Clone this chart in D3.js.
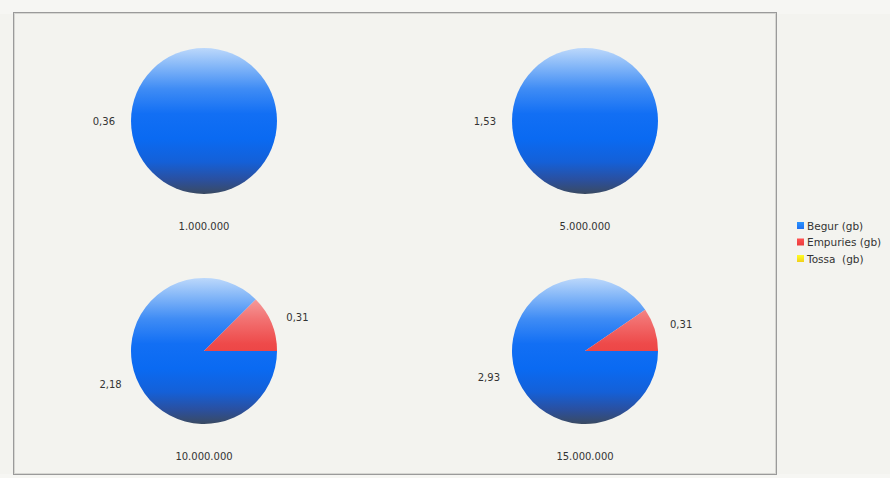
<!DOCTYPE html>
<html>
<head>
<meta charset="utf-8">
<script src="https://cdn.jsdelivr.net/npm/d3@7"></script>
<style>
  html, body { margin: 0; padding: 0; background: #f6f6f3; }
  svg { display: block; }
  text { font-family: "DejaVu Sans", Verdana, sans-serif; font-size: 10px; fill: #333; }
</style>
</head>
<body>
<svg id="chart" width="890" height="478"></svg>
<script>
// Disk usage per site, one pie for each file count
const categories = ["1.000.000", "5.000.000", "10.000.000", "15.000.000"];
const seriesNames = ["Begur (gb)", "Empuries (gb)", "Tossa  (gb)"];
const begur    = [0.36, 1.53, 2.18, 2.93];
const empuries = [0,    0,    0.31, 0.31];
const tossa    = [0,    0,    0,    0];
const seriesValues = [begur, empuries, tossa];

const W = 890, H = 478;
const frame = { x: 13, y: 12, w: 763, h: 462 };
const radius = 73;
const labelRadius = 89;

const svg = d3.select("#chart");
const fmt = d3.formatLocale({ decimal: ",", thousands: ".", grouping: [3], currency: ["", ""] }).format(".2f");

// gradients: light at the top, saturated middle, dark at the bottom
const defs = svg.append("defs");
const gradSpecs = [
  { id: "g0", stops: [[0, "#bcd8fb"], [0.12, "#86b8f8"], [0.28, "#3f8cf5"], [0.45, "#126ff4"], [0.62, "#0a6af2"], [0.78, "#1460d8"], [0.9, "#2a50a0"], [1, "#3a4a62"]] },
  { id: "g1", stops: [[0, "#f8c4c4"], [0.12, "#f5a2a2"], [0.28, "#f27272"], [0.45, "#ee4a4a"], [0.62, "#ea3c3c"], [0.78, "#d43838"], [0.9, "#a83434"], [1, "#6a3030"]] },
  { id: "g2", stops: [[0, "#fbeea0"], [0.3, "#f7dc4a"], [0.55, "#f2cc10"], [0.8, "#c8a410"], [1, "#7a6a20"]] }
];
gradSpecs.forEach(g => {
  const lg = defs.append("linearGradient").attr("id", g.id)
    .attr("gradientUnits", "userSpaceOnUse")
    .attr("x1", 0).attr("y1", -radius).attr("x2", 0).attr("y2", radius);
  g.stops.forEach(s => lg.append("stop").attr("offset", s[0]).attr("stop-color", s[1]));
});
const legGrad = ["#1f6ff0", "#ea3d3d", "#f1cf1a"];
legGrad.forEach((c, i) => {
  const lg = defs.append("linearGradient").attr("id", "lg" + i).attr("x1", 0).attr("y1", 0).attr("x2", 0).attr("y2", 1);
  lg.append("stop").attr("offset", 0).attr("stop-color", d3.color(c).brighter(0.8));
  lg.append("stop").attr("offset", 1).attr("stop-color", c);
});

// outer background and plot frame
svg.append("rect").attr("x", 0).attr("y", 0).attr("width", W).attr("height", H).attr("fill", "#f6f6f3");
svg.append("rect").attr("x", 0).attr("y", 14).attr("width", W).attr("height", 460).attr("fill", "#f3f3ef");
svg.append("rect")
  .attr("x", frame.x + 0.5).attr("y", frame.y + 0.5)
  .attr("width", frame.w).attr("height", frame.h)
  .attr("fill", "#f3f3ef").attr("stroke", "#9a9a9a").attr("stroke-width", 1);
svg.append("rect")
  .attr("x", frame.x + 1.5).attr("y", frame.y + 1.5)
  .attr("width", frame.w - 2).attr("height", frame.h - 2)
  .attr("fill", "none").attr("stroke", "#d6d6d2").attr("stroke-width", 1);

// 2x2 grid of pies
const colX = d3.scalePoint().domain([0, 1]).range([204, 585]);
const rowY = d3.scalePoint().domain([0, 1]).range([121, 351]);

const pie = d3.pie().sort(null).value(d => d.value)
  .startAngle(Math.PI / 2).endAngle(Math.PI / 2 + 2 * Math.PI);
const arc = d3.arc().innerRadius(0).outerRadius(radius);

categories.forEach((cat, ci) => {
  const cx = colX(ci % 2), cy = rowY(Math.floor(ci / 2));
  const g = svg.append("g").attr("transform", `translate(${cx},${cy})`);
  const data = seriesNames.map((name, si) => ({ name, si, value: seriesValues[si][ci] }));
  const arcs = pie(data).filter(a => a.data.value > 0);

  g.selectAll("path.slice").data(arcs).join("path")
    .attr("class", "slice")
    .attr("d", arc)
    .attr("fill", a => `url(#g${a.data.si})`);

  g.selectAll("text.val").data(arcs).join("text")
    .attr("class", "val")
    .each(function (a) {
      const mid = (a.startAngle + a.endAngle) / 2;
      const x = Math.sin(mid) * labelRadius;
      const y = -Math.cos(mid) * labelRadius;
      d3.select(this)
        .attr("x", x).attr("y", y)
        .attr("dy", "0.35em")
        .attr("text-anchor", x < 0 ? "end" : "start")
        .text(fmt(a.data.value));
    });

  g.append("text")
    .attr("x", 0).attr("y", 105)
    .attr("dy", "0.35em")
    .attr("text-anchor", "middle")
    .text(cat);
});

// legend
const legend = svg.append("g").attr("transform", "translate(797,222)");
const legY = d3.scalePoint().domain(d3.range(seriesNames.length)).range([0, 33]);
seriesNames.forEach((name, i) => {
  const row = legend.append("g").attr("transform", `translate(0,${legY(i)})`);
  row.append("rect").attr("x", 0).attr("y", 0).attr("width", 7).attr("height", 7)
    .attr("fill", `url(#lg${i})`);
  row.append("text").attr("x", 10).attr("y", 4).attr("dy", "0.35em")
    .style("font-size", "10.5px")
    .style("white-space", "pre")
    .text(name);
});
</script>
</body>
</html>
